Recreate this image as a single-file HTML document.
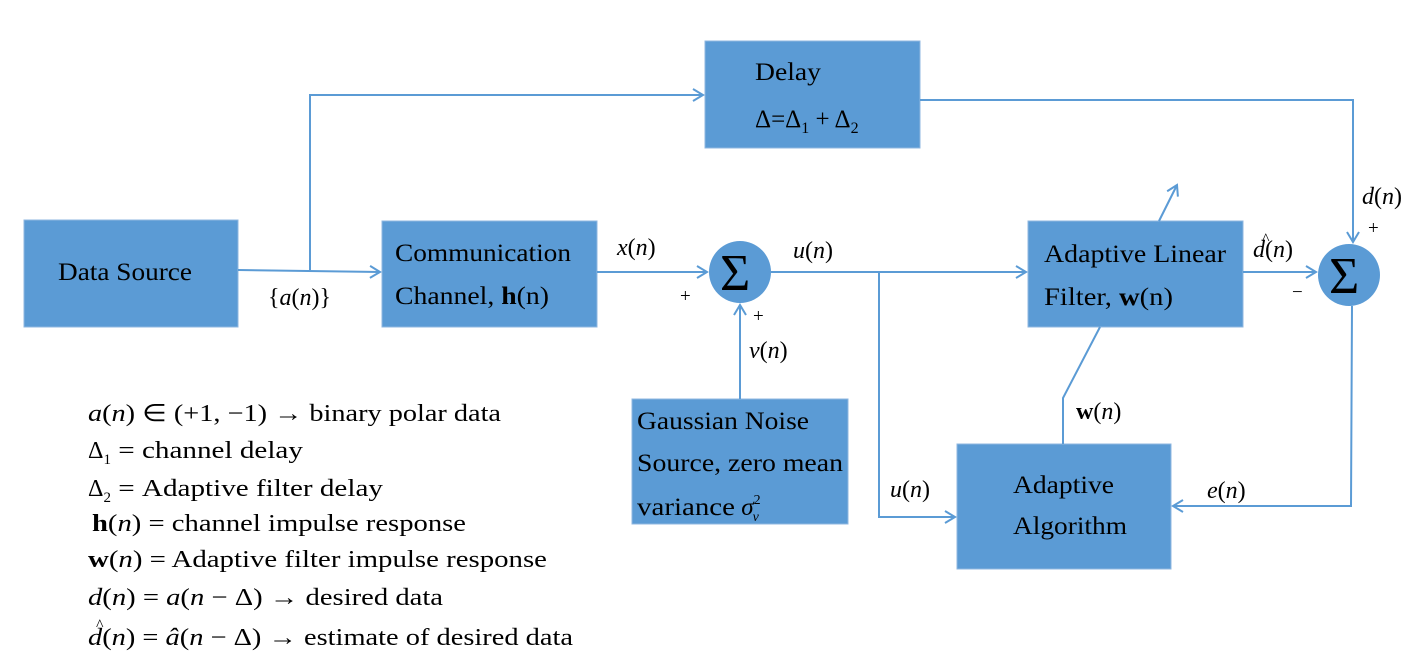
<!DOCTYPE html>
<html><head><meta charset="utf-8"><style>
html,body{margin:0;padding:0;background:#fff;}
svg{display:block;}
text{font-family:"Liberation Serif","Times New Roman",serif;fill:#000;}
.i{font-style:italic;}
</style></head><body>
<svg width="1428" height="666" viewBox="0 0 1428 666" xmlns="http://www.w3.org/2000/svg" font-family="Liberation Serif, serif">
<defs>
<marker id="a" markerWidth="14" markerHeight="14" refX="11" refY="7" orient="auto" markerUnits="userSpaceOnUse">
<path d="M1,1 L11,7 L1,13" fill="none" stroke="#5b9bd5" stroke-width="2"/>
</marker>
</defs>
<g fill="#5b9bd5" stroke="#8fb7e0" stroke-width="1">
<rect x="24" y="220" width="214" height="107"/>
<rect x="382" y="221" width="215" height="106"/>
<rect x="705" y="41" width="215" height="107"/>
<rect x="1028" y="221" width="215" height="106"/>
<rect x="632" y="399" width="216" height="125"/>
<rect x="957" y="444" width="214" height="125"/>
<circle cx="740" cy="272" r="31" stroke="none"/>
<circle cx="1349" cy="275" r="31" stroke="none"/>
</g>
<g fill="none" stroke="#5b9bd5" stroke-width="2">
<path d="M238,270 L380,272" marker-end="url(#a)"/>
<path d="M310,270 L310,95 L703,95" marker-end="url(#a)"/>
<path d="M597,272 L707,272" marker-end="url(#a)"/>
<path d="M920,100 L1353,100 L1353,242" marker-end="url(#a)"/>
<path d="M771,272 L1026,272" marker-end="url(#a)"/>
<path d="M879,272 L879,517 L955,517" marker-end="url(#a)"/>
<path d="M740,399 L740,305" marker-end="url(#a)"/>
<path d="M1243,272 L1316,272" marker-end="url(#a)"/>
<path d="M1352,306 L1351,506 L1173,506" marker-end="url(#a)"/>
<path d="M1159,221 L1177,185" marker-end="url(#a)"/>
<path d="M1100,327 L1063,398 L1063,444"/>
</g>
<g font-size="25">
<text x="58" y="280" textLength="134" lengthAdjust="spacingAndGlyphs">Data Source</text>
<text x="395" y="261" textLength="176" lengthAdjust="spacingAndGlyphs">Communication</text>
<text x="395" y="304" textLength="154" lengthAdjust="spacingAndGlyphs">Channel, <tspan font-weight="bold">h</tspan>(n)</text>
<text x="755" y="80" textLength="66" lengthAdjust="spacingAndGlyphs">Delay</text>
<text x="755" y="127">Δ=Δ<tspan font-size="16" dy="6">1</tspan><tspan dy="-6"> + Δ</tspan><tspan font-size="16" dy="6">2</tspan></text>
<text x="1044" y="262" textLength="182" lengthAdjust="spacingAndGlyphs">Adaptive Linear</text>
<text x="1044" y="305" textLength="129" lengthAdjust="spacingAndGlyphs">Filter, <tspan font-weight="bold">w</tspan>(n)</text>
<text x="637" y="429" textLength="172" lengthAdjust="spacingAndGlyphs">Gaussian Noise</text>
<text x="637" y="471" textLength="206" lengthAdjust="spacingAndGlyphs">Source, zero mean</text>
<text x="637" y="515"><tspan textLength="98" lengthAdjust="spacingAndGlyphs">variance</tspan> <tspan class="i">σ</tspan><tspan font-size="14" dy="-11">2</tspan><tspan font-size="14" dx="-8" dy="17" class="i">ν</tspan></text>
<text x="1013" y="493" textLength="101" lengthAdjust="spacingAndGlyphs">Adaptive</text>
<text x="1013" y="534" textLength="114" lengthAdjust="spacingAndGlyphs">Algorithm</text>
</g>
<g font-size="52"><text x="720" y="290">Σ</text><text x="1329" y="293">Σ</text></g>
<g font-size="24">
<text x="268" y="305">{<tspan class="i">a</tspan>(<tspan class="i">n</tspan>)}</text>
<text x="617" y="255"><tspan class="i">x</tspan>(<tspan class="i">n</tspan>)</text>
<text x="793" y="258"><tspan class="i">u</tspan>(<tspan class="i">n</tspan>)</text>
<text x="749" y="358"><tspan class="i">ν</tspan>(<tspan class="i">n</tspan>)</text>
<text x="890" y="497"><tspan class="i">u</tspan>(<tspan class="i">n</tspan>)</text>
<text x="1076" y="419"><tspan font-weight="bold">w</tspan>(<tspan class="i">n</tspan>)</text>
<text x="1207" y="498"><tspan class="i">e</tspan>(<tspan class="i">n</tspan>)</text>
<text x="1362" y="204"><tspan class="i">d</tspan>(<tspan class="i">n</tspan>)</text>
<text x="1253" y="257"><tspan class="i">d</tspan>(<tspan class="i">n</tspan>)</text>
<text x="1262" y="244" font-size="16">^</text>
</g>
<g font-size="19">
<text x="680" y="302">+</text>
<text x="753" y="322">+</text>
<text x="1368" y="234">+</text>
<text x="1292" y="298">−</text>
</g>
<g font-size="24">
<text x="88" y="421" textLength="413" lengthAdjust="spacingAndGlyphs"><tspan class="i">a</tspan>(<tspan class="i">n</tspan>) ∈ (+1,  −1) → binary polar data</text>
<text x="88" y="458">Δ<tspan font-size="15" dy="6">1</tspan><tspan dy="-6" textLength="192" lengthAdjust="spacingAndGlyphs"> =  channel delay</tspan></text>
<text x="88" y="496">Δ<tspan font-size="15" dy="6">2</tspan><tspan dy="-6" textLength="272" lengthAdjust="spacingAndGlyphs"> =  Adaptive filter delay</tspan></text>
<text x="92" y="531" textLength="374" lengthAdjust="spacingAndGlyphs"><tspan font-weight="bold">h</tspan>(<tspan class="i">n</tspan>) = channel impulse response</text>
<text x="88" y="567" textLength="459" lengthAdjust="spacingAndGlyphs"><tspan font-weight="bold">w</tspan>(<tspan class="i">n</tspan>) = Adaptive filter impulse response</text>
<text x="88" y="605" textLength="355" lengthAdjust="spacingAndGlyphs"><tspan class="i">d</tspan>(<tspan class="i">n</tspan>) = <tspan class="i">a</tspan>(<tspan class="i">n</tspan> − Δ) → desired data</text>
<text x="88" y="645" textLength="485" lengthAdjust="spacingAndGlyphs"><tspan class="i">d</tspan>(<tspan class="i">n</tspan>) = <tspan class="i">â</tspan>(<tspan class="i">n</tspan> − Δ) → estimate of desired data</text>
<text x="96" y="630" font-size="16">^</text>
</g>
</svg>
</body></html>
